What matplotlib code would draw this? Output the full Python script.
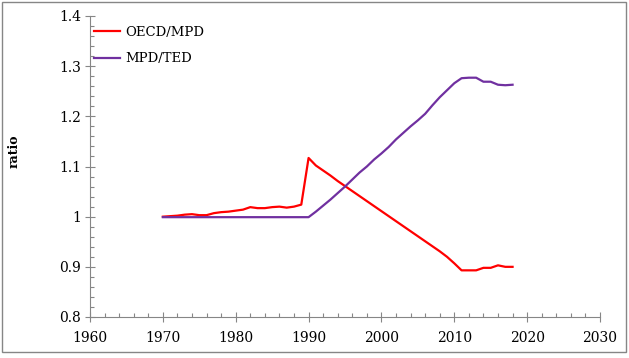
"""Ratio of GDP series: OECD/MPD and MPD/TED."""

import matplotlib
matplotlib.use('Agg')
import matplotlib.pyplot as plt
from matplotlib.patches import Rectangle
from matplotlib.ticker import MultipleLocator, FuncFormatter

years = list(range(1970, 2019))

oecd_mpd = [1.000, 1.001, 1.002, 1.004, 1.005, 1.003, 1.003, 1.007, 1.009, 1.010,
            1.012, 1.014, 1.019, 1.017, 1.017, 1.019, 1.020, 1.018, 1.020, 1.024,
            1.117, 1.102, 1.092, 1.082, 1.071, 1.061, 1.051, 1.041, 1.031, 1.021,
            1.011, 1.001, 0.991, 0.981, 0.971, 0.961, 0.951, 0.941, 0.931, 0.920,
            0.907, 0.893, 0.893, 0.893, 0.898, 0.898, 0.903, 0.900, 0.900]

mpd_ted = [0.999] * 21 + [
    1.010, 1.022, 1.034, 1.047, 1.060, 1.074, 1.088, 1.100, 1.114,
    1.126, 1.139, 1.154, 1.167, 1.180, 1.192, 1.205, 1.222, 1.238, 1.252,
    1.266, 1.276, 1.277, 1.277, 1.269, 1.269, 1.263, 1.262, 1.263]

labels = ['OECD/MPD', 'MPD/TED']
colors = ['#ff0000', '#7030a0']


def main():
    plt.rcParams['font.family'] = ['DejaVu Serif']
    fig = plt.figure(figsize=(6.29, 3.58), dpi=100)
    ax = fig.add_axes([90 / 629, 1 - 317 / 358, 510 / 629, 301 / 358])

    ax.plot(years, oecd_mpd, color=colors[0], lw=1.6, label=labels[0])
    ax.plot(years, mpd_ted, color=colors[1], lw=1.6, label=labels[1])

    ax.set_xlim(1960, 2030)
    ax.set_ylim(0.8, 1.4)
    ax.xaxis.set_major_locator(MultipleLocator(10))
    ax.xaxis.set_minor_locator(MultipleLocator(2))
    ax.yaxis.set_major_locator(MultipleLocator(0.1))
    ax.yaxis.set_minor_locator(MultipleLocator(0.02))
    ax.yaxis.set_major_formatter(FuncFormatter(lambda v, p: '%g' % round(v, 2)))

    grey = '#868686'
    for side in ['top', 'right']:
        ax.spines[side].set_visible(False)
    for side in ['left', 'bottom']:
        ax.spines[side].set_color(grey)
    ax.tick_params(which='major', direction='inout', length=6.5, width=0.8,
                   color=grey, labelsize=10)
    ax.tick_params(axis='x', which='major', pad=6.5)
    ax.tick_params(axis='y', which='major', pad=3)
    ax.tick_params(which='minor', direction='in', length=3, width=0.8, color=grey)

    ax.set_ylabel('ratio', fontsize=9, fontweight='bold')
    ax.yaxis.set_label_coords(-0.137, 0.55)

    ax.legend(loc='upper left', bbox_to_anchor=(0.008, 0.968), frameon=False,
              fontsize=9.5, handlelength=2.0, handletextpad=0.35,
              labelspacing=1.05, borderpad=0, borderaxespad=0)

    fig.patches.append(Rectangle((2 / 629, 1 - 352 / 358), 624 / 629, 350 / 358,
                                 transform=fig.transFigure, fill=False,
                                 edgecolor=grey, lw=1.0))
    fig.savefig('out.png', dpi=100)


if __name__ == '__main__':
    main()
